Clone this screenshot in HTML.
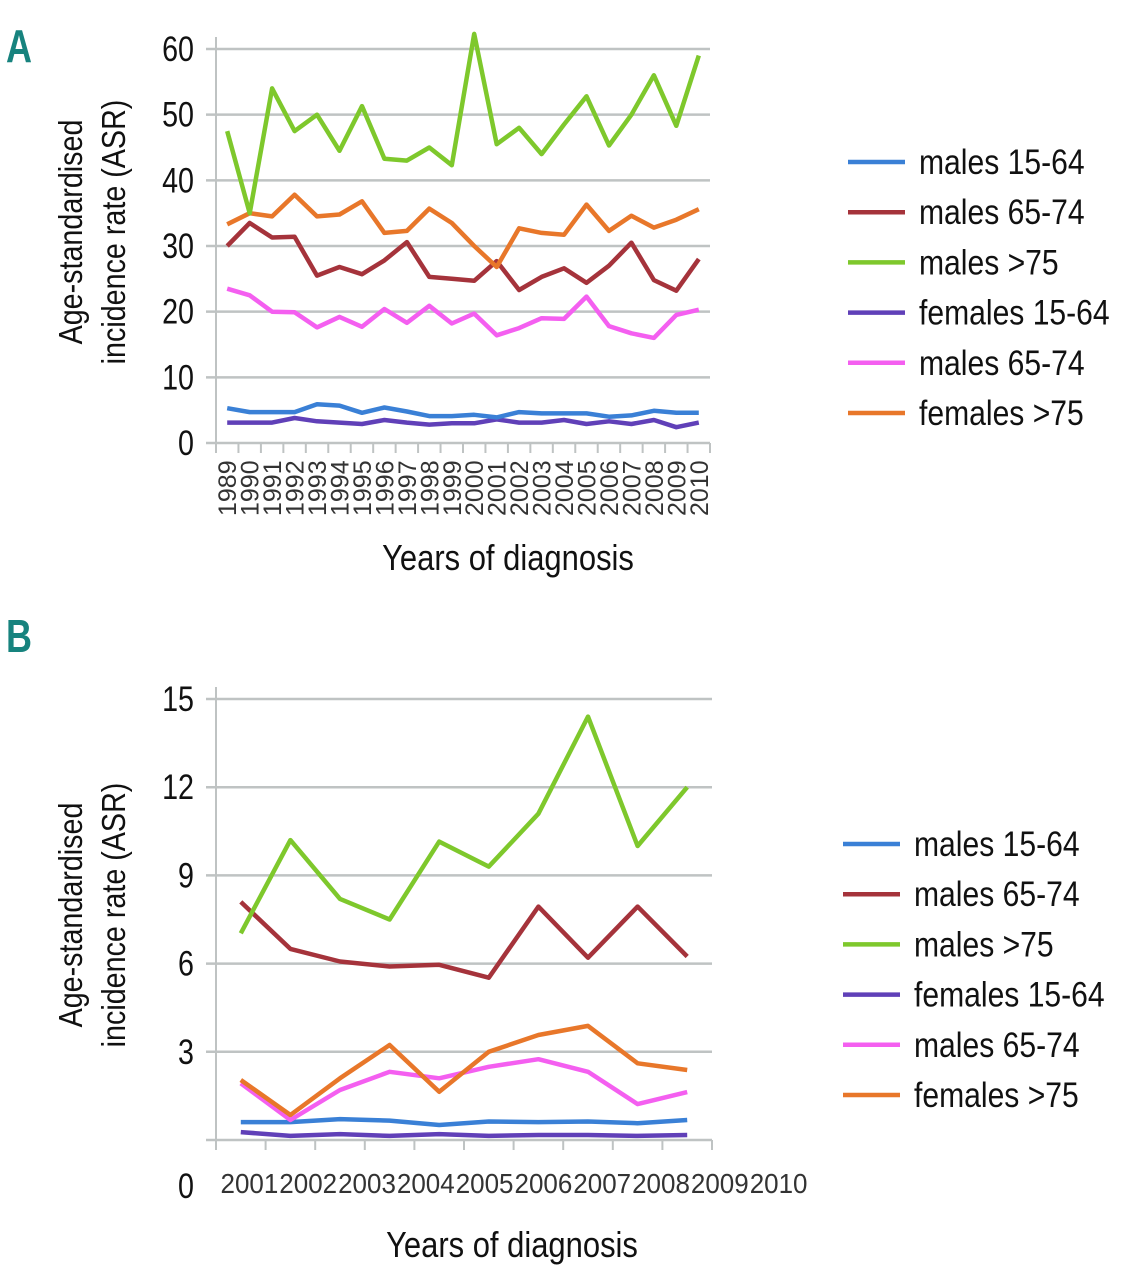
<!DOCTYPE html>
<html><head><meta charset="utf-8"><style>
html,body{margin:0;padding:0;background:#fff}
svg{display:block}
text{font-family:"Liberation Sans",sans-serif;fill:#111}
</style></head><body>
<svg id="s" width="1129" height="1280" viewBox="0 0 1129 1280">
<text x="0" y="0" transform="translate(6,62) scale(0.9,1.15)" style="font-size:40px;font-weight:bold;fill:#17837e">A</text>
<text x="0" y="0" transform="translate(6,652) scale(0.9,1.15)" style="font-size:40px;font-weight:bold;fill:#17837e">B</text>
<g id="ga"></g>
<g id="gb"></g>
</svg>
<script>
const seriesNames=["males 15-64","males 65-74","males >75","females 15-64","males 65-74","females >75"];
const seriesColors=["#3a80d6","#a5333b","#7ec82c","#6040b8","#f45ff0","#e8772a"];
const yearsA=["1989","1990","1991","1992","1993","1994","1995","1996","1997","1998","1999","2000","2001","2002","2003","2004","2005","2006","2007","2008","2009","2010"];
const aMales1564=[5.3,4.7,4.7,4.7,5.9,5.7,4.6,5.4,4.8,4.1,4.1,4.3,3.9,4.7,4.5,4.5,4.5,4.0,4.2,4.9,4.6,4.6];
const aMales6574=[30,33.5,31.3,31.4,25.5,26.8,25.7,27.8,30.6,25.3,25,24.7,27.7,23.3,25.3,26.6,24.4,27,30.5,24.8,23.2,28];
const aMales75=[47.5,35,54,47.5,50,44.5,51.3,43.3,43,45,42.3,62.3,45.5,48,44,48.5,52.8,45.3,50,56,48.3,59];
const aFemales1564=[3.1,3.1,3.1,3.8,3.3,3.1,2.9,3.5,3.1,2.8,3.0,3.0,3.6,3.1,3.1,3.5,2.9,3.3,2.9,3.5,2.4,3.1];
const aMales6574b=[23.5,22.5,20,19.9,17.6,19.2,17.7,20.4,18.3,20.9,18.2,19.7,16.4,17.5,19,18.9,22.3,17.8,16.7,16,19.5,20.3];
const aFemales75=[33.3,35,34.5,37.8,34.5,34.8,36.8,32,32.3,35.7,33.5,30,26.8,32.7,32,31.7,36.3,32.3,34.6,32.8,34,35.6];
const yTicksA=[0,10,20,30,40,50,60];
const yearsB=["2001","2002","2003","2004","2005","2006","2007","2008","2009","2010"];
const bMales1564=[0.61,0.61,0.71,0.66,0.51,0.63,0.61,0.63,0.57,0.68];
const bMales6574=[8.1,6.5,6.07,5.9,5.96,5.52,7.94,6.2,7.94,6.24];
const bMales75=[7.03,10.2,8.2,7.5,10.15,9.3,11.1,14.4,10,12];
const bFemales1564=[0.27,0.14,0.2,0.14,0.2,0.14,0.17,0.17,0.14,0.17];
const bMales6574b=[1.93,0.68,1.7,2.32,2.1,2.49,2.75,2.32,1.22,1.63];
const bFemales75=[2.04,0.85,2.1,3.23,1.64,3.0,3.57,3.88,2.61,2.38];
const yTicksB=[0,3,6,9,12,15];

const NS="http://www.w3.org/2000/svg";
function mk(p,t,a){const e=document.createElementNS(NS,t);for(const k in a)e.setAttribute(k,a[k]);p.appendChild(e);return e;}
function txt(g,x,y,rot,sx,size,anchor,fill){
  return mk(g,'text',{x:0,y:0,transform:`translate(${x},${y}) rotate(${rot}) scale(${sx},1)`,'text-anchor':anchor,style:`font-size:${size}px;fill:${fill}`});
}

function draw(g,cfg){
  const {x0,x1,y0,y1,vmax,cats,series,ticks,rotate,leg}=cfg;
  const bw=(x1-x0)/cats.length;
  const X=i=>x0+bw*(i+0.5);
  const Y=v=>y0-(y0-y1)*v/vmax;
  ticks.forEach((t,i)=>{
    const gl=mk(g,'line',{x1:x0-10,x2:x1,y1:Y(t),y2:Y(t),stroke:'#bfc3c3','stroke-width':2.5});
    
    
    const ly=(cfg.zeroLabelY&&t===0)?cfg.zeroLabelY:Y(t)+12;
    const tl=txt(g,x0-22,ly,0,0.82,35,'end','#111');
    tl.textContent=t;
    
    
  });
  const ax=mk(g,'line',{x1:x0,x2:x0,y1:y1-12,y2:y0+10,stroke:'#bfc3c3','stroke-width':2});
  
  
  for(let i=0;i<=cats.length;i++){
    const tk=mk(g,'line',{x1:x0+bw*i,x2:x0+bw*i,y1:y0,y2:y0+10,stroke:'#bfc3c3','stroke-width':2});
    
    
  }
  const lw=cfg.labW||bw;
  cats.forEach((c,i)=>{
    let t;
    if(rotate){t=txt(g,X(i)+9,y0+73,-90,1,25,'start','#333');}
    else{const lx=cfg.labX0+lw*(i+0.5);
      t=mk(g,'text',{x:lx,y:y0+53,'text-anchor':'middle',style:'font-size:28px;fill:#333',textLength:lw-1,lengthAdjust:'spacingAndGlyphs'});}
    t.textContent=c;
    
    
  });
  const order=[3,0,4,1,5,2];
  order.forEach(si=>{
    const d=series[si].map((v,i)=>(i?'L':'M')+X(i).toFixed(1)+','+Y(v).toFixed(1)).join(' ');
    const p=mk(g,'path',{d:d,fill:'none',stroke:seriesColors[si],'stroke-width':4.5,'stroke-linejoin':'round'});
    
    
  });
  seriesNames.forEach((n,i)=>{
    const yy=leg.y+leg.dy*i;
    const l=mk(g,'line',{x1:leg.x,x2:leg.x+57,y1:yy,y2:yy,stroke:seriesColors[i],'stroke-width':4.5});
    
    
    const t=txt(g,leg.x+71,yy+12,0,0.86,35,'start','#111');
    t.textContent=n;
    
    
  });
  const yt=txt(g,82,cfg.ytc,-90,0.87,33,'middle','#111');
  yt.textContent='Age-standardised';
  
  
  const yt2=txt(g,125,cfg.ytc,-90,0.87,33,'middle','#111');
  yt2.textContent='incidence rate (ASR)';
  
  
  const xt=txt(g,cfg.xtx,cfg.xty,0,0.86,36,'middle','#111');
  xt.textContent='Years of diagnosis';
  
  
}
draw(document.getElementById('ga'),{x0:216,x1:710,y0:443,y1:49,vmax:60,cats:yearsA,
 series:[aMales1564,aMales6574,aMales75,aFemales1564,aMales6574b,aFemales75],ticks:yTicksA,rotate:true,
 leg:{x:848,y:162,dy:50.2},ytc:232,xtx:508,xty:570});
draw(document.getElementById('gb'),{x0:216,x1:712,y0:1140,y1:699,vmax:15,cats:yearsB,
 series:[bMales1564,bMales6574,bMales75,bFemales1564,bMales6574b,bFemales75],ticks:yTicksB,rotate:false,zeroLabelY:1198,
 labX0:220,labW:58.8,
 leg:{x:843,y:844,dy:50.2},ytc:915,xtx:512,xty:1257});
</script>
</body></html>
